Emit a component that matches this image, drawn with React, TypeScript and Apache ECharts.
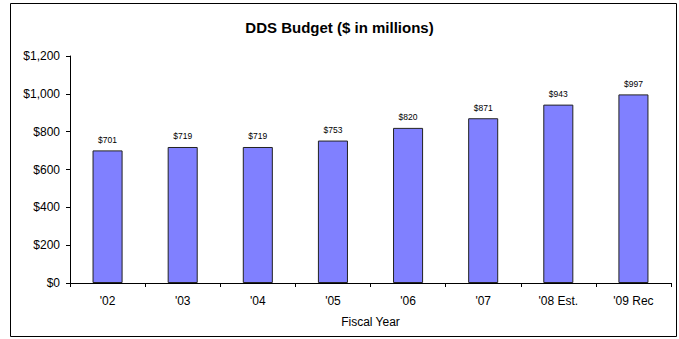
import React, { useEffect, useRef } from "react";
import * as echarts from "echarts";

const categories = ["'02", "'03", "'04", "'05", "'06", "'07", "'08 Est.", "'09 Rec"];
const budget = [701, 719, 719, 753, 820, 871, 943, 997];
const titleText = "DDS Budget ($ in millions)";
const xName = "Fiscal Year";

export default function App() {
  const ref = useRef<HTMLDivElement>(null);
  useEffect(() => {
    document.body.style.margin = "0";
    const chart = echarts.init(ref.current!, null, { renderer: "svg" });
    const font = "Liberation Sans, Arial, sans-serif";
    chart.setOption({
      animation: false,
      backgroundColor: "#ffffff",
      textStyle: { fontFamily: font },
      title: {
        text: titleText,
        left: "center",
        top: 15,
        textStyle: { fontSize: 15, fontWeight: "bold", color: "#000", fontFamily: font },
      },
      graphic: [
        {
          type: "rect",
          shape: { x: 10.5, y: 3.5, width: 666, height: 333 },
          style: { fill: "none", stroke: "#000", lineWidth: 1 },
          silent: true,
        },
      ],
      grid: { left: 70, right: 8, top: 56, bottom: 56, containLabel: false },
      xAxis: {
        type: "category",
        data: categories,
        boundaryGap: true,
        name: xName,
        nameLocation: "middle",
        nameGap: 33,
        nameTextStyle: { fontSize: 12, color: "#000", fontFamily: font },
        axisLine: { lineStyle: { color: "#000", width: 1 } },
        axisTick: { show: true, alignWithLabel: false, length: 4, inside: false, lineStyle: { color: "#000" } },
        axisLabel: { fontSize: 12, color: "#000", margin: 12, fontFamily: font },
        splitLine: { show: false },
      },
      yAxis: {
        type: "value",
        min: 0,
        max: 1200,
        interval: 200,
        axisLine: { show: true, lineStyle: { color: "#000", width: 1 } },
        axisTick: { show: true, length: 4, lineStyle: { color: "#000" } },
        axisLabel: {
          fontSize: 12,
          color: "#000",
          margin: 10,
          fontFamily: font,
          formatter: (v: number) => "$" + v.toLocaleString("en-US"),
        },
        splitLine: { show: false },
      },
      series: [
        {
          type: "bar",
          data: budget,
          barWidth: "40%",
          itemStyle: { color: "#8080FF", borderColor: "#222", borderWidth: 1 },
          label: {
            show: true,
            position: "top",
            distance: 6,
            fontSize: 8.5,
            color: "#000",
            fontFamily: font,
            formatter: (p: any) => "$" + p.value,
          },
        },
      ],
    });
    return () => chart.dispose();
  }, []);
  return <div ref={ref} style={{ position: "absolute", left: 0, top: 0, width: 679, height: 339 }} />;
}
